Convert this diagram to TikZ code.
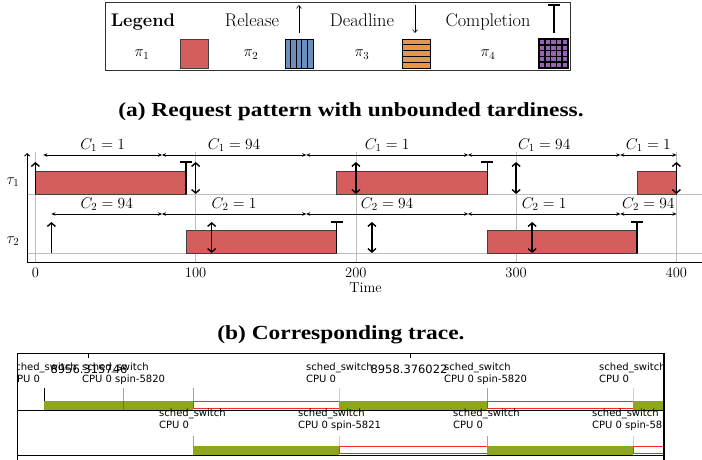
\RequirePackage{fix-cm}
\documentclass[tikz,border=0pt]{standalone}
\usepackage{fontspec}
\usepackage{graphicx}
\usetikzlibrary{arrows.meta}
\newfontfamily\capfont[FakeStretch=1.17]{Liberation Serif}
\newfontfamily\trfont{DejaVu Sans}

\definecolor{jobred}{RGB}{212,94,94}
\definecolor{cblue}{RGB}{108,142,191}
\definecolor{corange}{RGB}{230,150,75}
\definecolor{cpurple}{RGB}{150,100,180}
\definecolor{gridgray}{RGB}{190,190,190}
\definecolor{runolive}{RGB}{140,166,30}
\definecolor{waitred}{RGB}{250,40,40}
\definecolor{tickgreen}{RGB}{110,205,90}
\definecolor{ticktan}{RGB}{232,205,155}
\definecolor{tickrust}{RGB}{200,80,30}

\tikzset{
  lgtext/.style={font=\fontsize{18.3}{22}\selectfont, anchor=base, inner sep=0pt},
  lgmath/.style={font=\fontsize{15.5}{18}\selectfont, anchor=base, inner sep=0pt},
  caption/.style={font=\capfont\bfseries\fontsize{20}{24}\selectfont, anchor=base, inner sep=0pt},
  clabel/.style={font=\fontsize{15.5}{18}\selectfont, anchor=base, inner sep=0pt},
  axlabel/.style={font=\fontsize{14.5}{17}\selectfont, anchor=base, inner sep=0pt},
  jobbar/.style={fill=jobred, draw=black!75, line width=0.8pt},
  donemark/.style={line width=1.6pt},
  relmark/.style={line width=1.4pt, -{Straight Barb[length=3.5pt,width=8pt]}},
  bothmark/.style={line width=1.4pt, {Straight Barb[length=3.5pt,width=8pt]}-{Straight Barb[length=3.5pt,width=8pt]}},
  perline/.style={line width=0.6pt, {Stealth[length=4pt,width=3.5pt]}-{Stealth[length=4pt,width=3.5pt]}},
  gridline/.style={gridgray, line width=0.7pt},
  trtext/.style={font=\trfont\fontsize{10}{12}\selectfont, anchor=base west, inner sep=0pt},
  trstamp/.style={font=\trfont\fontsize{11.5}{13}\selectfont, anchor=base, inner sep=0pt},
  runbar/.style={fill=runolive, draw=none},
  waitbar/.style={fill=white, draw=waitred, line width=1pt},
}

\begin{document}
\begin{tikzpicture}[x=1pt, y=-1pt]
\useasboundingbox (0,0) rectangle (702,460);

% ---------------- legend ----------------
\draw[line width=1pt, black!80] (105,3) rectangle (570,71);
\node[lgtext] (lgLegend) at (143,27) {\bfseries Legend};
\node[lgtext] (lgRelease) at (252,27) {Release};
\node[lgtext] (lgDeadline) at (362,27) {Deadline};
\node[lgtext] (lgCompletion) at (488,27) {Completion};
\draw[line width=0.6pt, -{Straight Barb[length=3pt,width=5pt]}] (299,33) -- (299,5);
\draw[line width=0.6pt, -{Straight Barb[length=3pt,width=5pt]}] (415,5) -- (415,33);
\draw[line width=1.2pt] (554,33) -- (554,5) (548,5) -- (560,5);

\node[lgmath] (lgPiA) at (142,57) {$\pi_1$};
\node[lgmath] (lgPiB) at (251,57) {$\pi_2$};
\node[lgmath] (lgPiC) at (362,57) {$\pi_3$};
\node[lgmath] (lgPiD) at (488,57) {$\pi_4$};

% pi_1: plain
\draw[fill=jobred, draw=black!75, line width=0.8pt] (180,39) rectangle (208,68);
% pi_2: vertical stripes
\fill[cblue] (285,39) rectangle (313,68);
\foreach \i in {1,...,4} \draw[line width=1.3pt] ({285+\i*5.6},39) -- ({285+\i*5.6},68);
\draw[line width=0.8pt] (285,39) rectangle (313,68);
% pi_3: horizontal stripes
\fill[corange] (402,39) rectangle (430,68);
\foreach \i in {1,...,4} \draw[line width=1.3pt] (402,{39+\i*5.8}) -- (430,{39+\i*5.8});
\draw[line width=0.8pt] (402,39) rectangle (430,68);
% pi_4: grid
\fill[cpurple] (539,39) rectangle (568,68);
\foreach \i in {1,...,4} {
  \draw[line width=1.6pt] ({539+\i*5.8},39) -- ({539+\i*5.8},68);
  \draw[line width=1.6pt] (539,{39+\i*5.8}) -- (568,{39+\i*5.8});
}
\draw[line width=1.2pt] (539,39) rectangle (568,68);

% ---------------- caption (a) ----------------
\node[caption] (capA) at (351,117) {(a) Request pattern with unbounded tardiness.};

% ---------------- schedule chart ----------------
\node[clabel] (tauA) at (13,184) {$\tau_1$};
\node[clabel] (tauB) at (13,243) {$\tau_2$};

\begin{scope}[xshift=35.4pt, x=1.6025pt]
  % grid
  \foreach \t in {0,100,200,300,400} \draw[gridline] (\t,152) -- (\t,262);
  \draw[gridline] (-5.24,194) -- (416,194);
  \draw[gridline] (-5.24,253) -- (416,253);
  % axes
  \draw[line width=1pt] (-5.24,262) -- (416,262);
  \draw[line width=1pt, -{Straight Barb[length=2.5pt,width=5pt]}] (-5.24,262) -- (-5.24,153);
  % tick labels
  \foreach \t in {0,100,200,300,400} \node[axlabel] (tk\t) at (\t,277) {\t};
  \node[axlabel] (timeLbl) at (206,292) {Time};

  % execution of tau_1
  \draw[jobbar] (0,171) rectangle (94,194);
  \draw[jobbar] (188,171) rectangle (282,194);
  \draw[jobbar] (375.4,171) rectangle (400,194);
  % execution of tau_2
  \draw[jobbar] (94,230) rectangle (188,253);
  \draw[jobbar] (282,230) rectangle (375.4,253);

  % completions
  \foreach \t/\b/\h in {94/194/162, 282/194/162, 188/253/222, 375.4/253/222}
    \draw[donemark] (\t,\b) -- (\t,\h) ++(-6pt,0) -- ++(12pt,0);

  % releases
  \draw[relmark] (0,194) -- (0,162);
  \draw[relmark] (10,253) -- (10,222);
  % release + deadline at the same instant
  \foreach \t in {100,200,300,400} \draw[bothmark] (\t,162) -- (\t,194);
  \foreach \t in {110,210,310} \draw[bothmark] (\t,222) -- (\t,253);

  % budget intervals of tau_1
  \foreach \a/\b in {5/79, 79/169, 169/270, 270/365, 365/400}
    \draw[perline] (\a,155) -- (\b,155);
  \node[clabel] (ca1) at (42,149.5) {$C_1 = 1$};
  \node[clabel] (ca2) at (124,149.5) {$C_1 = 94$};
  \node[clabel] (ca3) at (219.5,149.5) {$C_1 = 1$};
  \node[clabel] (ca4) at (317.5,149.5) {$C_1 = 94$};
  \node[clabel] (ca5) at (382.5,149.5) {$C_1 = 1$};
  % budget intervals of tau_2
  \foreach \a/\b in {10/79, 79/169, 169/270, 270/365, 365/400}
    \draw[perline] (\a,214) -- (\b,214);
  \node[clabel] (cb1) at (44.5,208) {$C_2 = 94$};
  \node[clabel] (cb2) at (124,208) {$C_2 = 1$};
  \node[clabel] (cb3) at (219.5,208) {$C_2 = 94$};
  \node[clabel] (cb4) at (317.5,208) {$C_2 = 1$};
  \node[clabel] (cb5) at (382.5,208) {$C_2 = 94$};
\end{scope}

% ---------------- caption (b) ----------------
\node[caption] (capB) at (341,339) {(b) Corresponding trace.};

% ---------------- trace view ----------------
\draw[line width=0.8pt] (17,460) -- (17,353) -- (664,353);
\draw[line width=0.8pt] (88,353) -- (88,358);
\draw[line width=0.8pt] (410,353) -- (410,358);

\begin{scope}
  \clip (17.4,353) rectangle (663.2,460);
  % CPU row 1
  \fill[runbar] (44,401) rectangle (193,410);
  \draw[waitbar] (193.5,401.5) rectangle (339,408.8);
  \fill[runbar] (339,401) rectangle (487,410);
  \draw[waitbar] (487.5,401.5) rectangle (633,408.8);
  \fill[runbar] (633,401) rectangle (664,410);
  \draw[line width=0.9pt] (44,388) -- (44,401);
  \draw[tickgreen, line width=0.9pt] (123,388) -- (123,401);
  \draw[tickrust, line width=0.9pt] (123,401) -- (123,410);
  \draw[tickgreen, line width=0.9pt] (193,388) -- (193,401);
  \draw[ticktan, line width=0.9pt] (339,388) -- (339,401);
  \draw[tickgreen, line width=0.9pt] (487,388) -- (487,401);
  \draw[ticktan, line width=0.9pt] (633,388) -- (633,401);
  % CPU row 2
  \fill[runbar] (193,446) rectangle (339,455);
  \draw[waitbar] (339.5,446.5) rectangle (487,453.8);
  \fill[runbar] (487,446) rectangle (633,455);
  \draw[waitbar] (633.5,446.5) rectangle (666,453.8);
  \draw[tickgreen, line width=0.9pt] (193,436) -- (193,446);
  \draw[ticktan, line width=0.9pt] (339,436) -- (339,446);
  \draw[tickgreen, line width=0.9pt] (487,436) -- (487,446);
  \draw[ticktan, line width=0.9pt] (633,436) -- (633,446);
  % row base lines
  \draw[line width=0.8pt] (17,410) -- (664,410);
  \draw[line width=0.8pt] (17,455) -- (664,455);

  % event labels, row 1
  \node[trtext] (ea1) at (10,370) {sched\_switch};
  \node[trtext] (eb1) at (10,382) {CPU 0};
  \node[trtext] (ea2) at (82,370) {sched\_switch};
  \node[trtext] (eb2) at (82,382) {CPU 0 spin-5820};
  \node[trtext] (ea3) at (306,370) {sched\_switch};
  \node[trtext] (eb3) at (306,382) {CPU 0};
  \node[trtext] (ea4) at (444,370) {sched\_switch};
  \node[trtext] (eb4) at (444,382) {CPU 0 spin-5820};
  \node[trtext] (ea5) at (599,370) {sched\_switch};
  \node[trtext] (eb5) at (599,382) {CPU 0};
  % event labels, row 2
  \node[trtext] (fa1) at (159,416) {sched\_switch};
  \node[trtext] (fb1) at (159,428) {CPU 0};
  \node[trtext] (fa2) at (298,416) {sched\_switch};
  \node[trtext] (fb2) at (298,428) {CPU 0 spin-5821};
  \node[trtext] (fa3) at (453,416) {sched\_switch};
  \node[trtext] (fb3) at (453,428) {CPU 0};
  \node[trtext] (fa4) at (592,416) {sched\_switch};
  \node[trtext] (fb4) at (592,428) {CPU 0 spin-5820};

  % time stamps
  \node[trstamp] (ts1) at (89,373) {8956.315746};
  \node[trstamp] (ts2) at (409,373) {8958.376022};
\end{scope}
\draw[line width=1.6pt] (664,353) -- (664,460);
\end{tikzpicture}
\end{document}
